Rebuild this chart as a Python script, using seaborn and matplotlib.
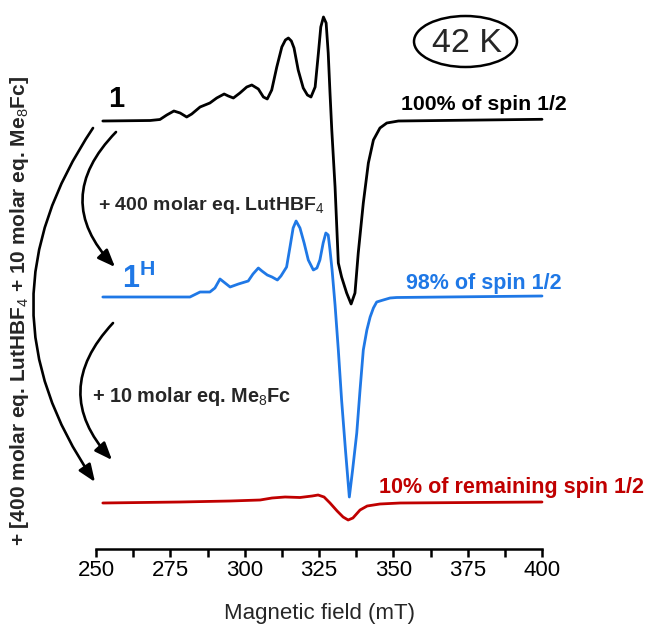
import matplotlib
matplotlib.use("Agg")
import matplotlib.pyplot as plt
from matplotlib.patches import Ellipse, FancyArrowPatch
from matplotlib.ticker import MultipleLocator
import pandas as pd
import seaborn as sns

# ---- EPR spectra at 42 K: field (mT) vs. derivative intensity (a.u., baseline = 0) ----
field_1 = [252.3, 268.2, 271.5, 273.8, 276.2, 278.3, 280.5, 282.2, 285.0, 288.3, 290.6,
           293.1, 294.5, 296.2, 298.4, 300.7, 302.4, 304.6, 306.3, 307.6, 309.1, 310.8,
           312.5, 313.7, 314.7, 315.7, 316.6, 318.0, 319.7, 321.1, 322.3, 323.7, 324.8,
           325.6, 326.5, 327.4, 328.1, 328.7, 329.3, 330.4, 331.5, 332.6, 334.3, 335.8,
           337.1, 338.2, 339.9, 341.6, 343.3, 345.5, 347.8, 351.7, 400]
signal_1 = [0, 0.05, 0.15, 0.6, 1.0, 0.8, 0.4, 0.7, 1.4, 1.8, 2.3,
            2.7, 2.5, 2.3, 2.8, 3.4, 3.6, 3.2, 2.4, 2.2, 3.1, 5.4,
            7.4, 8.1, 8.3, 8.0, 7.3, 5.1, 3.3, 2.6, 2.4, 3.4, 6.8,
            9.4, 10.4, 9.8, 6.8, 2.8, -0.9, -6.6, -14.2, -15.6, -17.2, -18.3,
            -17.2, -13.2, -8.2, -4.2, -1.9, -0.7, -0.2, 0.0, 0.17]

field_1H = [252.3, 278.3, 281.6, 285.0, 288.3, 290.0, 291.7, 293.4, 295.1, 297.9, 301.2,
            302.8, 304.6, 305.8, 307.6, 309.2, 311.0, 312.2, 314.1, 315.3, 316.3, 317.3,
            318.6, 320.0, 321.4, 323.1, 324.3, 325.3, 326.4, 327.3, 328.1, 328.7, 329.4,
            330.4, 331.5, 332.6, 333.9, 335.2, 336.3, 337.7, 338.8, 339.9, 341.1, 342.2,
            343.3, 344.4, 346.6, 348.9, 351.1, 400]
signal_1H = [0, 0, 0, 0.5, 0.5, 0.9, 1.8, 1.4, 1.0, 1.3, 1.6,
             2.3, 2.9, 2.6, 2.2, 2.0, 1.7, 2.1, 3.0, 5.1, 6.9, 7.6,
             6.9, 5.4, 3.7, 2.7, 2.9, 3.7, 5.4, 6.4, 6.2, 4.7, 2.7,
             -0.8, -5.3, -10.3, -15.3, -20.0, -17.3, -13.6, -9.3, -5.3, -3.3, -2.0,
             -1.1, -0.5, -0.3, -0.1, -0.05, 0.1]

field_red = [252.3, 278.3, 295.1, 305.2, 309.2, 313.6, 318.6, 322.7, 324.7, 326.7, 328.7,
             331.1, 333.1, 334.8, 336.4, 338.8, 341.2, 345.5, 352.3, 400]
signal_red = [0, 0.1, 0.2, 0.3, 0.5, 0.6, 0.55, 0.7, 0.8, 0.6, 0,
              -0.8, -1.4, -1.7, -1.5, -0.7, -0.3, -0.1, 0, 0.1]

# vertical stacking of the three traces
offset_1, offset_1H, offset_red = 42.8, 25.2, 4.6

col_1, col_1H, col_red = "#000000", "#1f78e6", "#c00000"

sns.set_theme(style="ticks")
plt.rcParams["font.family"] = ["Liberation Sans", "DejaVu Sans"]
plt.rcParams["mathtext.fontset"] = "custom"
plt.rcParams["mathtext.rm"] = "Liberation Sans"
plt.rcParams["mathtext.bf"] = "Liberation Sans:bold"
plt.rcParams["mathtext.it"] = "Liberation Sans:italic"

W, H = 648, 637
fig = plt.figure(figsize=(W / 100, H / 100), dpi=100)
ax = fig.add_axes([96 / W, (H - 549) / H, (542 - 96) / W, (549 - 10) / H])


def px(x, y):
    """pixel position (from top-left) -> figure fraction"""
    return (x / W, 1 - y / H)


traces = [
    (field_red, signal_red, offset_red, col_red),
    (field_1H, signal_1H, offset_1H, col_1H),
    (field_1, signal_1, offset_1, col_1),
]
for fld, sig, off, col in traces:
    df = pd.DataFrame({"field": fld, "y": [s + off for s in sig]})
    sns.lineplot(data=df, x="field", y="y", ax=ax, color=col, lw=2.0,
                 sort=False, estimator=None, clip_on=False,
                 solid_joinstyle="round", solid_capstyle="round")

ax.set_xlim(250, 400)
ax.set_ylim(0, 53.9)
ax.set_xticks(range(250, 401, 25))
ax.xaxis.set_minor_locator(MultipleLocator(12.5))
ax.set_yticks([])
ax.set_ylabel("")
ax.set_xlabel("Magnetic field (mT)", fontsize=16, labelpad=16)
ax.tick_params(axis="x", which="both", direction="out", length=6, width=1.8,
               labelsize=16, pad=2, color="black", labelcolor="black")
for s in ["left", "top", "right"]:
    ax.spines[s].set_visible(False)
ax.spines["bottom"].set_linewidth(1.8)
ax.spines["bottom"].set_color("black")
ax.patch.set_alpha(0)

# labels of the samples
fig.text(*px(116, 99), "1", fontsize=21, fontweight="bold", color=col_1,
         ha="center", va="center")
fig.text(*px(122, 279), r"1$^{\mathbf{H}}$", fontsize=22, fontweight="bold",
         color=col_1H, ha="left", va="center")

fig.text(*px(98, 205), r"+ 400 molar eq. LutHBF$_4$", fontsize=14,
         fontweight="bold", ha="left", va="center")
fig.text(*px(92, 396), r"+ 10 molar eq. Me$_8$Fc", fontsize=14.3,
         fontweight="bold", ha="left", va="center")
fig.text(*px(20, 311), r"+ [400 molar eq. LutHBF$_4$ + 10 molar eq. Me$_8$Fc]",
         fontsize=15, fontweight="bold", rotation=90, ha="center", va="center")

fig.text(*px(567, 104), "100% of spin 1/2", fontsize=15.3, fontweight="bold",
         color=col_1, ha="right", va="center")
fig.text(*px(562, 283), "98% of spin 1/2", fontsize=15.5, fontweight="bold",
         color=col_1H, ha="right", va="center")
fig.text(*px(644, 488), "10% of remaining spin 1/2", fontsize=15.5,
         fontweight="bold", color=col_red, ha="right", va="center")

# temperature tag
fig.text(*px(467, 43), "42 K", fontsize=24.5, ha="center", va="center")
fig.add_artist(Ellipse(px(465.5, 41.5), 103 / W, 51 / H, transform=fig.transFigure,
                       fill=False, lw=1.8, edgecolor="black"))

# reaction arrows
arrow_kw = dict(arrowstyle="-|>,head_length=0.75,head_width=0.3", color="black",
                lw=1.9, mutation_scale=14, shrinkA=0, shrinkB=0)
for start, end, rad in [((116, 132), (115, 267), 0.48),
                        ((113, 323), (112, 460), 0.46),
                        ((93, 128), (95, 482), 0.34)]:
    fig.add_artist(FancyArrowPatch(px(*start), px(*end), transform=fig.transFigure,
                                   connectionstyle=f"arc3,rad={rad}", **arrow_kw))

fig.savefig("out.png", dpi=100)
